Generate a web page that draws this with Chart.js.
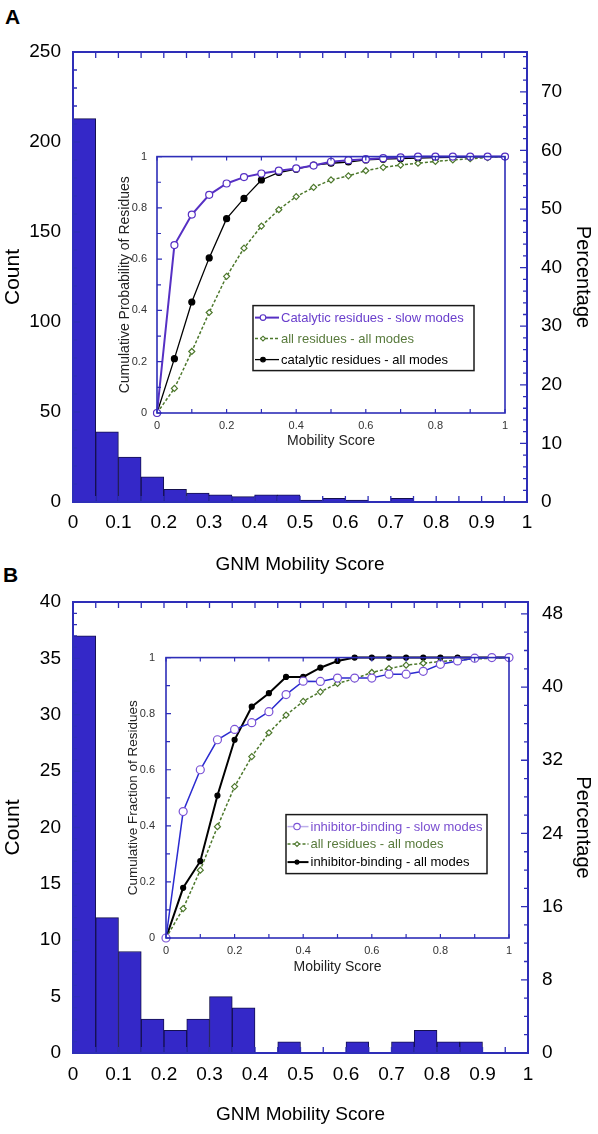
<!DOCTYPE html>
<html>
<head>
<meta charset="utf-8">
<script src="https://cdn.jsdelivr.net/npm/chart.js@4.4.1/dist/chart.umd.min.js"></script>
<style>
  body { margin: 0; background: #fff; width: 598px; height: 1134px; position: relative; overflow: hidden;
         font-family: "Liberation Sans", Arial, Helvetica, sans-serif; }
  canvas { position: absolute; }
  .tag { position: absolute; font-weight: bold; font-size: 21px; line-height: 24px; }
</style>
</head>
<body>
<div class="tag" style="left:5px;top:5px">A</div>
<div class="tag" style="left:3px;top:563px">B</div>
<canvas id="mainA" width="598" height="580" style="left:0;top:0"></canvas>
<canvas id="insetA" width="420" height="320" style="left:100px;top:140px"></canvas>
<canvas id="mainB" width="598" height="564" style="left:0;top:570px"></canvas>
<canvas id="insetB" width="420" height="345" style="left:100px;top:640px"></canvas>
<script>
// histogram bins (GNM mobility score, width 0.05)
const binStarts = [0, 0.05, 0.1, 0.15, 0.2, 0.25, 0.3, 0.35, 0.4, 0.45,
                   0.5, 0.55, 0.6, 0.65, 0.7, 0.75, 0.8, 0.85, 0.9, 0.95];
const binWidth = 0.05;
const countsA = [213, 39, 25, 14, 7, 5, 4, 3, 4, 4, 1, 2, 1, 0, 2, 0, 0, 0, 0, 0];
const countsB = [37, 12, 9, 3, 2, 3, 5, 4, 0, 1, 0, 0, 1, 0, 1, 2, 1, 1, 0, 0];

// tick labels
const mainXTicks = [0, 0.1, 0.2, 0.3, 0.4, 0.5, 0.6, 0.7, 0.8, 0.9, 1];
const mainXLabels = ['0', '0.1', '0.2', '0.3', '0.4', '0.5', '0.6', '0.7', '0.8', '0.9', '1'];
const countTicksA = [0, 50, 100, 150, 200, 250];
const pctTicksA = [0, 10, 20, 30, 40, 50, 60, 70];
const pctMaxA = 76.8;
const countTicksB = [0, 5, 10, 15, 20, 25, 30, 35, 40];
const pctTicksB = [0, 8, 16, 24, 32, 40, 48];
const pctMaxB = 49.3;
const insetTicks = [0, 0.2, 0.4, 0.6, 0.8, 1];

// cumulative curves (inset), sampled every 0.05
const mobility = [0, 0.05, 0.1, 0.15, 0.2, 0.25, 0.3, 0.35, 0.4, 0.45, 0.5,
                  0.55, 0.6, 0.65, 0.7, 0.75, 0.8, 0.85, 0.9, 0.95, 1];
const catSlowA = [0, 0.655, 0.774, 0.851, 0.895, 0.920, 0.934, 0.945, 0.954, 0.965, 0.980,
                  0.986, 0.990, 0.994, 0.997, 1, 1, 1, 1, 1, 1];
const allResA  = [0, 0.096, 0.240, 0.392, 0.533, 0.643, 0.729, 0.793, 0.844, 0.880, 0.909,
                  0.925, 0.945, 0.958, 0.967, 0.974, 0.981, 0.987, 0.992, 0.996, 1];
const catAllA  = [0, 0.212, 0.433, 0.605, 0.758, 0.837, 0.909, 0.938, 0.951, 0.967, 0.974,
                  0.979, 0.987, 0.990, 0.992, 0.994, 0.996, 0.997, 0.998, 0.999, 1];
const inhSlowB = [0, 0.451, 0.600, 0.707, 0.744, 0.768, 0.807, 0.868, 0.916, 0.915, 0.927,
                  0.927, 0.927, 0.941, 0.941, 0.951, 0.976, 0.988, 0.998, 1, 1];
const allResB  = [0, 0.105, 0.242, 0.397, 0.540, 0.647, 0.732, 0.795, 0.844, 0.878, 0.908,
                  0.925, 0.947, 0.961, 0.973, 0.980, 0.986, 0.991, 0.995, 0.998, 1];
const inhAllB  = [0, 0.179, 0.274, 0.508, 0.707, 0.825, 0.873, 0.931, 0.931, 0.964, 0.988,
                  1, 1, 1, 1, 1, 1, 1, 1, 1, 1];

Chart.defaults.font.family = '"Liberation Sans", Arial, Helvetica, sans-serif';
Chart.defaults.color = '#000';

const frameBlue = '#2e2eb8';
const barFill = '#3428c8';
const barEdge = '#14104e';

// frame + inward tick marks
const frameTicks = {
  id: 'frameTicks',
  afterDatasetsDraw(chart, args, o) {
    const { ctx, chartArea: a, scales } = chart;
    ctx.save();
    ctx.strokeStyle = o.color;
    ctx.lineWidth = o.tickWidth;
    ctx.beginPath();
    const xs = scales.x;
    const nx = Math.floor((xs.max - xs.min) / o.xStep + 1e-6);
    for (let i = 0; i <= nx; i++) {
      const px = xs.getPixelForValue(xs.min + i * o.xStep);
      ctx.moveTo(px, a.bottom); ctx.lineTo(px, a.bottom - o.xLen);
      ctx.moveTo(px, a.top); ctx.lineTo(px, a.top + o.xLen);
    }
    o.yTicks.forEach(t => {
      const s = scales[t.id];
      const n = Math.floor((s.max - s.min) / t.step + 1e-6);
      for (let i = 0; i <= n; i++) {
        const v = s.min + i * t.step;
        const py = s.getPixelForValue(v);
        const r = v / t.major;
        const len = Math.abs(r - Math.round(r)) < 1e-6 ? t.majorLen : t.len;
        if (t.side === 'left') { ctx.moveTo(a.left, py); ctx.lineTo(a.left + len, py); }
        else { ctx.moveTo(a.right, py); ctx.lineTo(a.right - len, py); }
      }
    });
    ctx.stroke();
    ctx.lineWidth = o.frameWidth;
    ctx.strokeRect(a.left, a.top, a.right - a.left, a.bottom - a.top);
    ctx.restore();
  }
};

function drawMarker(ctx, shape, x, y, r, stroke, fill, lw) {
  ctx.beginPath();
  if (shape === 'rectRot') {
    ctx.moveTo(x, y - r); ctx.lineTo(x + r, y); ctx.lineTo(x, y + r); ctx.lineTo(x - r, y); ctx.closePath();
  } else {
    ctx.arc(x, y, r, 0, Math.PI * 2);
  }
  ctx.fillStyle = fill; ctx.fill();
  ctx.lineWidth = lw; ctx.strokeStyle = stroke; ctx.stroke();
}

// boxed legend inside the inset
const insetLegend = {
  id: 'insetLegend',
  afterDraw(chart, args, o) {
    const { ctx, chartArea: a } = chart;
    const x = a.left + o.x, y = a.top + o.y;
    ctx.save();
    ctx.fillStyle = '#fff';
    ctx.fillRect(x, y, o.w, o.h);
    ctx.lineWidth = 1.5;
    ctx.strokeStyle = '#1a1a1a';
    ctx.strokeRect(x, y, o.w, o.h);
    ctx.font = '13px "Liberation Sans", Arial, sans-serif';
    ctx.textBaseline = 'middle';
    chart.data.datasets.forEach((ds, i) => {
      const ry = y + o.rows[i];
      ctx.strokeStyle = ds.sampleColor || ds.borderColor;
      ctx.lineWidth = ds.borderWidth;
      ctx.setLineDash(ds.borderDash || []);
      ctx.beginPath(); ctx.moveTo(x + o.s0, ry); ctx.lineTo(x + o.s1, ry); ctx.stroke();
      ctx.setLineDash([]);
      drawMarker(ctx, ds.pointStyle, x + o.m, ry, ds.pointRadius * 0.8,
                 ds.pointBorderColor, ds.pointBackgroundColor, 1.1);
      ctx.fillStyle = ds.textColor;
      ctx.fillText(ds.label, x + o.t, ry + 0.5);
    });
    ctx.restore();
  }
};

function fixWidth(w) { return s => { s.width = w; }; }
function fixHeight(h) { return s => { s.height = h; }; }
function setTicks(list) { return s => { s.ticks = list.map(v => ({ value: v })); }; }

function mainChart(id, counts, c) {
  return new Chart(document.getElementById(id), {
    type: 'bar',
    data: {
      datasets: [{
        data: binStarts.map((b, i) => ({ x: b + binWidth / 2, y: counts[i] })),
        backgroundColor: barFill,
        borderColor: barEdge,
        borderWidth: 1,
        barPercentage: 1,
        categoryPercentage: 1,
        yAxisID: 'y'
      }]
    },
    options: {
      responsive: false,
      animation: false,
      layout: { padding: { top: c.padTop, left: 0, right: 0, bottom: 0 } },
      plugins: {
        legend: { display: false },
        tooltip: { enabled: false },
        frameTicks: {
          color: frameBlue, tickWidth: 1.3, frameWidth: 2,
          xStep: 0.05, xLen: 6,
          yTicks: [
            { id: 'y', side: 'left', step: c.countMinor, major: c.countMajor, len: 4, majorLen: 7 },
            { id: 'y2', side: 'right', step: 2, major: c.pctMajor, len: 4, majorLen: 7 }
          ]
        }
      },
      scales: {
        x: {
          type: 'linear', min: 0, max: 1, offset: false,
          afterBuildTicks: setTicks(mainXTicks),
          afterFit: fixHeight(c.xHeight),
          grid: { display: false, drawTicks: false, offset: false },
          border: { display: false },
          ticks: { callback: (v, i) => mainXLabels[i], font: { size: 19 }, padding: c.xPad,
                   maxRotation: 0, autoSkip: false },
          title: { display: true, text: 'GNM Mobility Score', font: { size: 19 },
                   padding: { top: 0, bottom: c.xTitlePad } }
        },
        y: {
          position: 'left', min: 0, max: c.countMax,
          afterBuildTicks: setTicks(c.countTicks),
          afterFit: fixWidth(73),
          grid: { display: false, drawTicks: false },
          border: { display: false },
          ticks: { callback: v => String(v), font: { size: 19 }, padding: 12 },
          title: { display: true, text: 'Count', font: { size: 21 }, padding: { top: 1, bottom: 0 } }
        },
        y2: {
          position: 'right', min: 0, max: c.pctMax,
          afterBuildTicks: setTicks(c.pctTicks),
          afterFit: fixWidth(598 - c.right),
          grid: { display: false, drawTicks: false },
          border: { display: false },
          ticks: { callback: v => String(v), font: { size: 19 }, padding: 14 },
          title: { display: true, text: 'Percentage', font: { size: 20 }, padding: { top: 3, bottom: 0 } }
        }
      }
    },
    plugins: [frameTicks]
  });
}

function insetChart(id, series, c) {
  return new Chart(document.getElementById(id), {
    type: 'line',
    data: {
      datasets: series.map(s => ({
        label: s.label,
        data: mobility.map((x, i) => ({ x: x, y: s.values[i] })),
        borderColor: s.line,
        borderWidth: s.width,
        borderDash: s.dash,
        pointStyle: s.shape,
        pointRadius: s.radius,
        pointBorderColor: s.point,
        pointBackgroundColor: s.fill,
        pointBorderWidth: 1.2,
        tension: 0,
        clip: false,
        textColor: s.text,
        sampleColor: s.sample
      }))
    },
    options: {
      responsive: false,
      animation: false,
      layout: { padding: { top: c.padTop, left: 0, right: c.padRight, bottom: 0 } },
      plugins: {
        legend: { display: false },
        tooltip: { enabled: false },
        frameTicks: {
          color: frameBlue, tickWidth: 1.2, frameWidth: 1.6,
          xStep: 0.1, xLen: 4,
          yTicks: [{ id: 'y', side: 'left', step: 0.1, major: 0.2, len: 4, majorLen: 5 }]
        },
        insetLegend: c.legend
      },
      scales: {
        x: {
          type: 'linear', min: 0, max: 1,
          afterBuildTicks: setTicks(insetTicks),
          afterFit: fixHeight(c.xHeight),
          grid: { display: false, drawTicks: false },
          border: { display: false },
          ticks: { callback: v => String(v), font: { size: 11 }, color: '#333', padding: 6, maxRotation: 0 },
          title: { display: true, text: 'Mobility Score', font: { size: 14 }, color: '#222',
                   padding: { top: 0, bottom: c.xTitlePad } }
        },
        y: {
          min: 0, max: 1,
          afterBuildTicks: setTicks(insetTicks),
          afterFit: fixWidth(c.yWidth),
          grid: { display: false, drawTicks: false },
          border: { display: false },
          ticks: { callback: v => String(v), font: { size: 11 }, color: '#333', padding: c.yPad },
          title: { display: true, text: c.yTitle, font: { size: c.yTitleSize }, color: '#222',
                   padding: { top: c.yTitlePad, bottom: 0 } }
        }
      }
    },
    plugins: [frameTicks, insetLegend]
  });
}

mainChart('mainA', countsA, {
  padTop: 52, xHeight: 78, xPad: 9, xTitlePad: 4, right: 527,
  countMax: 250, countTicks: countTicksA, countMinor: 10, countMajor: 50,
  pctMax: pctMaxA, pctTicks: pctTicksA, pctMajor: 10
});

mainChart('mainB', countsB, {
  padTop: 32, xHeight: 81, xPad: 10, xTitlePad: 8, right: 528,
  countMax: 40, countTicks: countTicksB, countMinor: 1, countMajor: 5,
  pctMax: pctMaxB, pctTicks: pctTicksB, pctMajor: 8
});

insetChart('insetA', [
  { label: 'Catalytic residues - slow modes', values: catSlowA, line: '#5630c4', width: 2, dash: [],
    shape: 'circle', radius: 3.5, point: '#5630c4', fill: '#fff', text: '#6a3fcc' },
  { label: 'all residues - all modes', values: allResA, line: '#4d782c', width: 1.5, dash: [3, 2],
    shape: 'rectRot', radius: 3, point: '#4d782c', fill: '#fff', text: '#587a3c' },
  { label: 'catalytic residues - all modes', values: catAllA, line: '#000', width: 1.3, dash: [],
    shape: 'circle', radius: 3, point: '#000', fill: '#000', text: '#000' }
], {
  padTop: 15, padRight: 15, xHeight: 47, xTitlePad: 10, yWidth: 57, yPad: 10,
  yTitle: 'Cumulative Probability of Residues', yTitleSize: 14, yTitlePad: 17,
  legend: { x: 96, y: 149, w: 221, h: 65, rows: [12, 33, 54], s0: 2, s1: 26, m: 10, t: 28 }
});

insetChart('insetB', [
  { label: 'inhibitor-binding - slow modes', values: inhSlowB, line: '#2b2bd0', width: 1.5, dash: [],
    shape: 'circle', radius: 4, point: '#7a52d6', fill: '#fff', text: '#7a4fd0', sample: '#bcaeea' },
  { label: 'all residues - all modes', values: allResB, line: '#4d782c', width: 1.5, dash: [3, 2],
    shape: 'rectRot', radius: 3, point: '#4d782c', fill: '#fff', text: '#587a3c' },
  { label: 'inhibitor-binding - all modes', values: inhAllB, line: '#000', width: 2, dash: [],
    shape: 'circle', radius: 2.5, point: '#000', fill: '#000', text: '#000' }
], {
  padTop: 17, padRight: 11, xHeight: 47, xTitlePad: 9, yWidth: 66, yPad: 11,
  yTitle: 'Cumulative Fraction of Residues', yTitleSize: 13.5, yTitlePad: 25,
  legend: { x: 120, y: 157, w: 201, h: 59, rows: [12, 29.5, 47.5], s0: 1.5, s1: 22.5, m: 11, t: 24.5 }
});
</script>
</body>
</html>
